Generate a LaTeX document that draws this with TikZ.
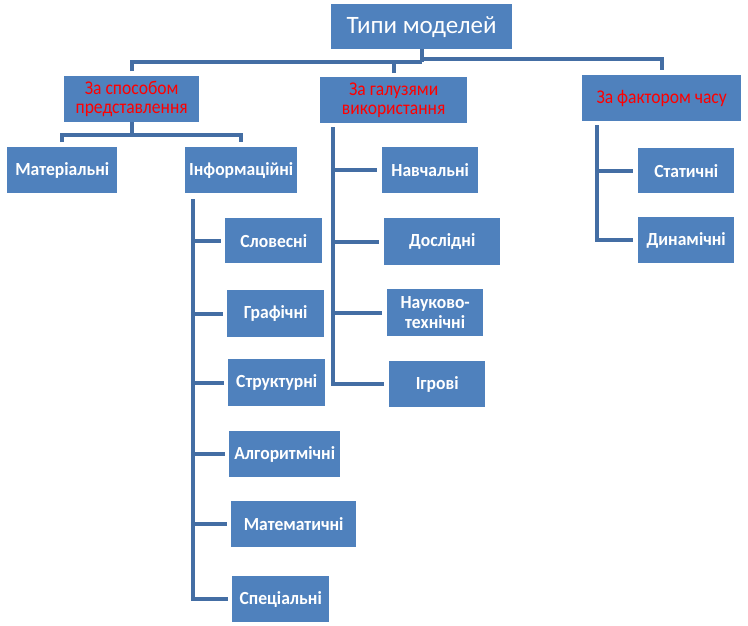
\documentclass[tikz,border=0pt]{standalone}
\usepackage{fontspec}
\setmainfont{Carlito}
\newfontfamily\redfont[FakeStretch=0.9]{Carlito}
\newfontfamily\whitefont[FakeStretch=0.95]{Carlito}
\definecolor{boxblue}{RGB}{79,129,189}
\definecolor{linkblue}{RGB}{68,110,164}
\definecolor{redtext}{RGB}{255,0,0}
\begin{document}
\begin{tikzpicture}[x=1pt,y=-1pt,
  box/.style={fill=boxblue, text=white, inner sep=0pt, align=center, anchor=north west,
    font=\whitefont\fontsize{18.5}{19.5}\selectfont\bfseries},
  redbox/.style={box, text=redtext, font=\redfont\fontsize{19.5}{19}\selectfont},
  link/.style={draw=linkblue, line width=4pt, line join=miter}]
\fill[white] (0,0) rectangle (748,625);
\useasboundingbox (0,0) rectangle (748,625);
% top
\node[box, minimum width=181pt, minimum height=45pt, font=\fontsize{25}{28}\selectfont] (top) at (331,4) {Типи моделей};
% level 1
\node[redbox, minimum width=135pt, minimum height=46pt] (sp) at (64,76) {За способом\\представлення};
\node[redbox, minimum width=147pt, minimum height=46pt] (gal) at (320,77) {За галузями\\використання};
\node[redbox, minimum width=159pt, minimum height=46pt] (fak) at (582,75) {За фактором часу};
% level 2
\node[box, minimum width=110pt, minimum height=46pt] (mat) at (7,147) {Матеріальні};
\node[box, minimum width=112pt, minimum height=46pt] (inf) at (185,147) {Інформаційні};
\node[box, minimum width=96pt, minimum height=46pt] (nav) at (382,147) {Навчальні};
\node[box, minimum width=116pt, minimum height=47pt] (dos) at (384,218) {Дослідні};
\node[box, minimum width=96pt, minimum height=47pt] (nauk) at (387,289) {Науково-\\технічні};
\node[box, minimum width=96pt, minimum height=46pt] (igr) at (389,361) {Ігрові};
\node[box, minimum width=96pt, minimum height=45pt] (stat) at (638,148) {Статичні};
\node[box, minimum width=96pt, minimum height=46pt] (din) at (638,217) {Динамічні};
% level 3
\node[box, minimum width=97pt, minimum height=45pt] (slov) at (225,218) {Словесні};
\node[box, minimum width=97pt, minimum height=47pt] (graf) at (227,290) {Графічні};
\node[box, minimum width=97pt, minimum height=47pt] (str) at (228,359) {Структурні};
\node[box, minimum width=111pt, minimum height=46pt] (alg) at (229,431) {Алгоритмічні};
\node[box, minimum width=125pt, minimum height=46pt] (mat2) at (231,501) {Математичні};
\node[box, minimum width=97pt, minimum height=46pt] (spec) at (232,576) {Спеціальні};
% connectors: top
\draw[link] (top.south) -- (top.south |- 0,62);
\draw[link] ([yshift=5pt]sp.north) -- (sp.north |- 0,62) -- (top.south |- 0,62);
\draw[link] (top.south |- 0,59) -- (fak.north |- 0,59) -- ([yshift=5pt]fak.north);
\draw[link] ([yshift=4pt]gal.north) -- (gal.north |- 0,62);
% sp
\draw[link] (sp.south) -- (sp.south |- 0,135);
\draw[link] ([yshift=5pt]mat.north) -- (mat.north |- 0,135) -- (inf.north |- 0,135) -- ([yshift=5pt]inf.north);
% gal
\coordinate (gtop) at (333,127);
\draw[link] (gtop) |- ([xshift=-5pt]igr.west);
\foreach \n in {nav,dos,nauk} \draw[link] (gtop |- \n.west) -- ([xshift=-5pt]\n.west);
% fak
\coordinate (ftop) at (597,125);
\draw[link] (ftop) |- ([xshift=-5pt]din.west);
\draw[link] (ftop |- stat.west) -- ([xshift=-5pt]stat.west);
% inf
\coordinate (itop) at (193,199);
\draw[link] (itop) |- ([xshift=-4pt]spec.west);
\foreach \n in {slov,graf,str,alg,mat2} \draw[link] (itop |- \n.west) -- ([xshift=-4pt]\n.west);
\end{tikzpicture}
\end{document}
